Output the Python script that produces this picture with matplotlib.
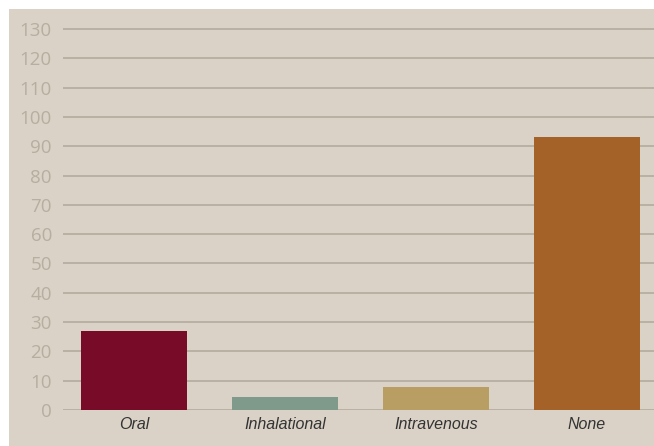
import matplotlib.pyplot as plt
from matplotlib.patches import Rectangle

categories = ['Oral', 'Inhalational', 'Intravenous', 'None']
values = [27, 4.5, 8, 93]
colors = ['#780B28', '#7F998B', '#B89E62', '#A46128']
yticks = list(range(0, 131, 10))

W, H = 654, 446
fig = plt.figure(figsize=(W / 100, H / 100), dpi=100, facecolor='white')

# beige panel, offset from the top-left corner
bg = '#DAD2C6'
fig.patches.append(Rectangle((9 / W, 0), 1, (H - 9) / H, transform=fig.transFigure,
                             facecolor=bg, edgecolor='none', zorder=-10))

ax = fig.add_axes([63 / W, (H - 410) / H, (W - 63) / W, 382 / H])
ax.set_facecolor('none')

x = range(len(categories))
ax.bar(x, values, width=0.7, color=colors, zorder=3)

ax.set_xlim(-0.47, 3.445)
ax.set_ylim(0, 130.35)
ax.set_yticks(yticks)
ax.yaxis.grid(True, color='#B3AB9C', linewidth=1.2, zorder=1)
ax.set_axisbelow(True)
for s in ax.spines.values():
    s.set_visible(False)

ax.tick_params(axis='y', length=0, pad=8, labelsize=13.5, labelcolor='#B6AE9F')
ax.tick_params(axis='x', length=0, pad=5)
for lab in ax.get_yticklabels():
    lab.set_fontfamily('Open Sans')

ax.set_xticks(list(x))
ax.set_xticklabels(categories, fontsize=11.5, style='italic', color='#333333',
                   family='Liberation Sans')

fig.savefig('out.png', dpi=100, facecolor='white')
